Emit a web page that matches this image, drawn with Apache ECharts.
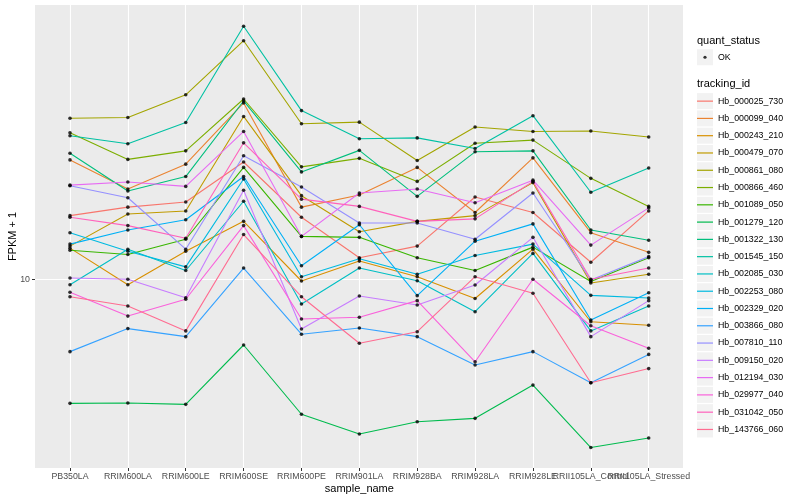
<!DOCTYPE html>
<html><head><meta charset="utf-8">
<script src="https://cdn.jsdelivr.net/npm/echarts@6/dist/echarts.min.js"></script>
<style>html,body{margin:0;padding:0;background:#fff}#c{width:800px;height:500px}</style>
</head><body><div id="c"></div><script>
// ---- data ----
const categories = ['PB350LA','RRIM600LA','RRIM600LE','RRIM600SE','RRIM600PE','RRIM901LA','RRIM928BA','RRIM928LA','RRIM928LE','RRII105LA_Control','RRII105LA_Stressed'];
const trackingIds = ['Hb_000025_730','Hb_000099_040','Hb_000243_210','Hb_000479_070','Hb_000861_080','Hb_000866_460','Hb_001089_050','Hb_001279_120','Hb_001322_130','Hb_001545_150','Hb_002085_030','Hb_002253_080','Hb_002329_020','Hb_003866_080','Hb_007810_110','Hb_009150_020','Hb_012194_030','Hb_029977_040','Hb_031042_050','Hb_143766_060'];
const colors = ['#F8766D','#EA8331','#D89000','#C09B00','#A3A500','#7CAE00','#39B600','#00BB4E','#00BF7D','#00C1A3','#00BFC4','#00BAE0','#00B0F6','#35A2FF','#9590FF','#C77CFF','#E76BF3','#FA62DB','#FF62BC','#FF6C91'];
const yTicks = [10];
const quantStatus = ['OK'];

const Hb_000025_730 = [16.3, 17.4, 18.1, 24.6, 16.1, 11.8, 12.9, 18.8, 16.7, 11.4, 16.9];
const Hb_000099_040 = [25.0, 20.0, 24.2, 38.7, 17.4, 19.1, 23.6, 16.7, 25.4, 14.3, 12.3];
const Hb_000243_210 = [12.7, 9.59, 12.4, 15.6, 9.87, 11.5, 10.2, 8.63, 12.6, 7.22, 7.03];
const Hb_000479_070 = [12.9, 16.5, 16.9, 34.9, 19.0, 14.4, 15.6, 16.3, 21.0, 9.72, 10.4];
const Hb_000861_080 = [34.4, 34.6, 41.2, 62.4, 33.0, 33.4, 24.9, 32.2, 31.1, 31.2, 29.8];
const Hb_000866_460 = [30.8, 25.1, 26.8, 39.9, 23.7, 25.3, 21.2, 28.4, 29.1, 21.7, 17.5];
const Hb_001089_050 = [12.5, 12.1, 13.6, 23.6, 13.9, 13.8, 11.8, 10.7, 12.8, 9.83, 11.8];
const Hb_001279_120 = [3.86, 3.87, 3.83, 6.04, 3.55, 3.05, 3.35, 3.44, 4.44, 2.75, 2.96];
const Hb_001322_130 = [26.3, 19.7, 22.0, 39.3, 22.8, 26.9, 18.9, 26.6, 26.8, 14.6, 13.5];
const Hb_001545_150 = [30.1, 28.3, 33.3, 69.7, 36.5, 29.4, 29.6, 27.3, 35.1, 19.5, 23.5];
const Hb_002085_030 = [9.59, 12.6, 10.7, 18.2, 8.27, 10.9, 9.89, 7.80, 12.2, 6.73, 8.15];
const Hb_002253_080 = [14.3, 12.4, 11.0, 21.6, 10.2, 11.7, 10.4, 12.0, 13.1, 8.84, 8.66];
const Hb_002329_020 = [13.1, 14.6, 15.8, 22.0, 11.1, 15.2, 8.82, 13.4, 15.3, 7.32, 9.02];
const Hb_003866_080 = [5.74, 6.85, 6.44, 10.9, 6.56, 6.88, 6.44, 5.18, 5.74, 4.52, 5.62];
const Hb_007810_110 = [20.5, 18.7, 12.6, 25.8, 20.3, 15.4, 15.4, 13.6, 19.4, 9.95, 11.9];
const Hb_009150_020 = [10.1, 10.0, 8.68, 19.8, 6.83, 8.80, 8.21, 9.57, 13.8, 6.44, 8.49];
const Hb_012194_030 = [20.6, 21.1, 20.4, 31.1, 13.9, 19.4, 20.0, 18.0, 21.4, 13.0, 17.3];
const Hb_029977_040 = [9.05, 7.54, 8.58, 15.1, 7.37, 7.47, 8.49, 5.31, 10.0, 7.00, 5.89];
const Hb_031042_050 = [16.1, 15.1, 13.7, 28.5, 18.5, 17.5, 15.6, 15.9, 21.2, 10.0, 10.9];
const Hb_143766_060 = [8.75, 8.15, 6.73, 14.1, 8.75, 6.12, 6.69, 10.2, 8.98, 4.52, 5.04];

const seriesValues = [Hb_000025_730, Hb_000099_040, Hb_000243_210, Hb_000479_070, Hb_000861_080,
  Hb_000866_460, Hb_001089_050, Hb_001279_120, Hb_001322_130, Hb_001545_150, Hb_002085_030,
  Hb_002253_080, Hb_002329_020, Hb_003866_080, Hb_007810_110, Hb_009150_020, Hb_012194_030,
  Hb_029977_040, Hb_031042_050, Hb_143766_060];

// ---- chart ----
const FONT = '"Liberation Sans", Arial, Helvetica, sans-serif';
const yMin = 2.35, yMax = 82.08;   // panel limits of the log axis (incl. ggplot expansion)
const chart = echarts.init(document.getElementById('c'), null, {renderer: 'canvas', width: 800, height: 500});

const lineSeries = trackingIds.map((id, k) => ({
  name: id, type: 'line', xAxisIndex: 1, yAxisIndex: 1,
  data: seriesValues[k], symbol: 'none', color: colors[k],
  lineStyle: {width: 1.1, color: colors[k]}, silent: true, z: 2
}));
const pts = [];
seriesValues.forEach(arr => arr.forEach((v, i) => pts.push([i, v])));
const okSeries = {name: 'OK', type: 'scatter', xAxisIndex: 1, yAxisIndex: 1, data: pts,
  symbol: 'circle', symbolSize: 3.6, itemStyle: {color: '#000'}, silent: true, z: 3};

const KEY = 17.28, LEG_X = 697, LEG_TOP = 92.5, QS_TOP = 48.6;
const boxes = [{type: 'rect', shape: {x: LEG_X, y: QS_TOP + 0.64, width: 16, height: 16}, style: {fill: '#F2F2F2'}, z: 0}];
trackingIds.forEach((id, i) => boxes.push({type: 'rect', shape: {x: LEG_X, y: LEG_TOP + i * KEY + 0.64, width: 16, height: 16}, style: {fill: '#F2F2F2'}, z: 0}));

const lineIcon = 'path://M0,0M16,17.28M0,8.04h16v1.2h-16z';
const dotIcon = 'path://M0,0M16,17.28M9.6,8.64A1.6,1.6,0,1,1,6.4,8.64A1.6,1.6,0,1,1,9.6,8.64z';
const legText = {fontSize: 8.8, color: '#000', fontFamily: FONT};

chart.setOption({
  animation: false,
  backgroundColor: '#fff',
  textStyle: {fontFamily: FONT},
  title: [
    {text: 'quant_status', left: LEG_X, top: 35, padding: 0, textStyle: {fontSize: 11, fontWeight: 'normal', color: '#000', fontFamily: FONT}},
    {text: 'tracking_id', left: LEG_X, top: 78, padding: 0, textStyle: {fontSize: 11, fontWeight: 'normal', color: '#000', fontFamily: FONT}}
  ],
  graphic: boxes,
  legend: [
    {data: quantStatus, orient: 'vertical', left: LEG_X, top: QS_TOP, padding: 0, itemWidth: 16, itemHeight: KEY, itemGap: 0,
      icon: dotIcon, textStyle: legText, selectedMode: false},
    {data: trackingIds, orient: 'vertical', left: LEG_X, top: LEG_TOP, padding: 0, itemWidth: 16, itemHeight: KEY, itemGap: 0,
      icon: lineIcon, textStyle: legText, selectedMode: false}
  ],
  grid: [
    {left: 35, right: 117, top: 5, bottom: 32, show: true, backgroundColor: '#EBEBEB', borderWidth: 0, containLabel: false, outerBoundsMode: 'none'},
    {left: 70, right: 151.3, top: 5, bottom: 32, show: false, containLabel: false, outerBoundsMode: 'none'}
  ],
  xAxis: [
    {gridIndex: 0, type: 'value', show: false, min: 0, max: 1},
    {gridIndex: 1, type: 'category', data: categories, boundaryGap: false,
      axisLine: {show: false},
      axisTick: {show: true, length: 3, lineStyle: {color: '#333333', width: 1}},
      axisLabel: {interval: 0, fontSize: 8.8, color: '#4D4D4D', margin: 4.5, fontFamily: FONT, hideOverlap: false},
      splitLine: {show: true, interval: 0, lineStyle: {color: '#FFFFFF', width: 1.1}},
      name: 'sample_name', nameLocation: 'middle', nameGap: 15, nameMoveOverlap: false,
      nameTextStyle: {fontSize: 11, color: '#000', fontFamily: FONT}}
  ],
  yAxis: [
    {gridIndex: 0, type: 'log', logBase: 10, min: yMin, max: yMax,
      axisLine: {show: false},
      axisTick: {show: true, length: 3, lineStyle: {color: '#333333', width: 1}, customValues: yTicks},
      axisLabel: {fontSize: 8.8, color: '#4D4D4D', margin: 5, showMinLabel: false, showMaxLabel: false, customValues: yTicks, fontFamily: FONT},
      splitLine: {show: true, lineStyle: {color: '#FFFFFF', width: 1.1}},
      name: 'FPKM + 1', nameLocation: 'middle', nameGap: 17, nameRotate: 90, nameMoveOverlap: false,
      nameTextStyle: {fontSize: 11, color: '#000', fontFamily: FONT}},
    {gridIndex: 1, type: 'log', logBase: 10, min: yMin, max: yMax, show: false}
  ],
  series: lineSeries.concat([okSeries])
});
</script></body></html>
